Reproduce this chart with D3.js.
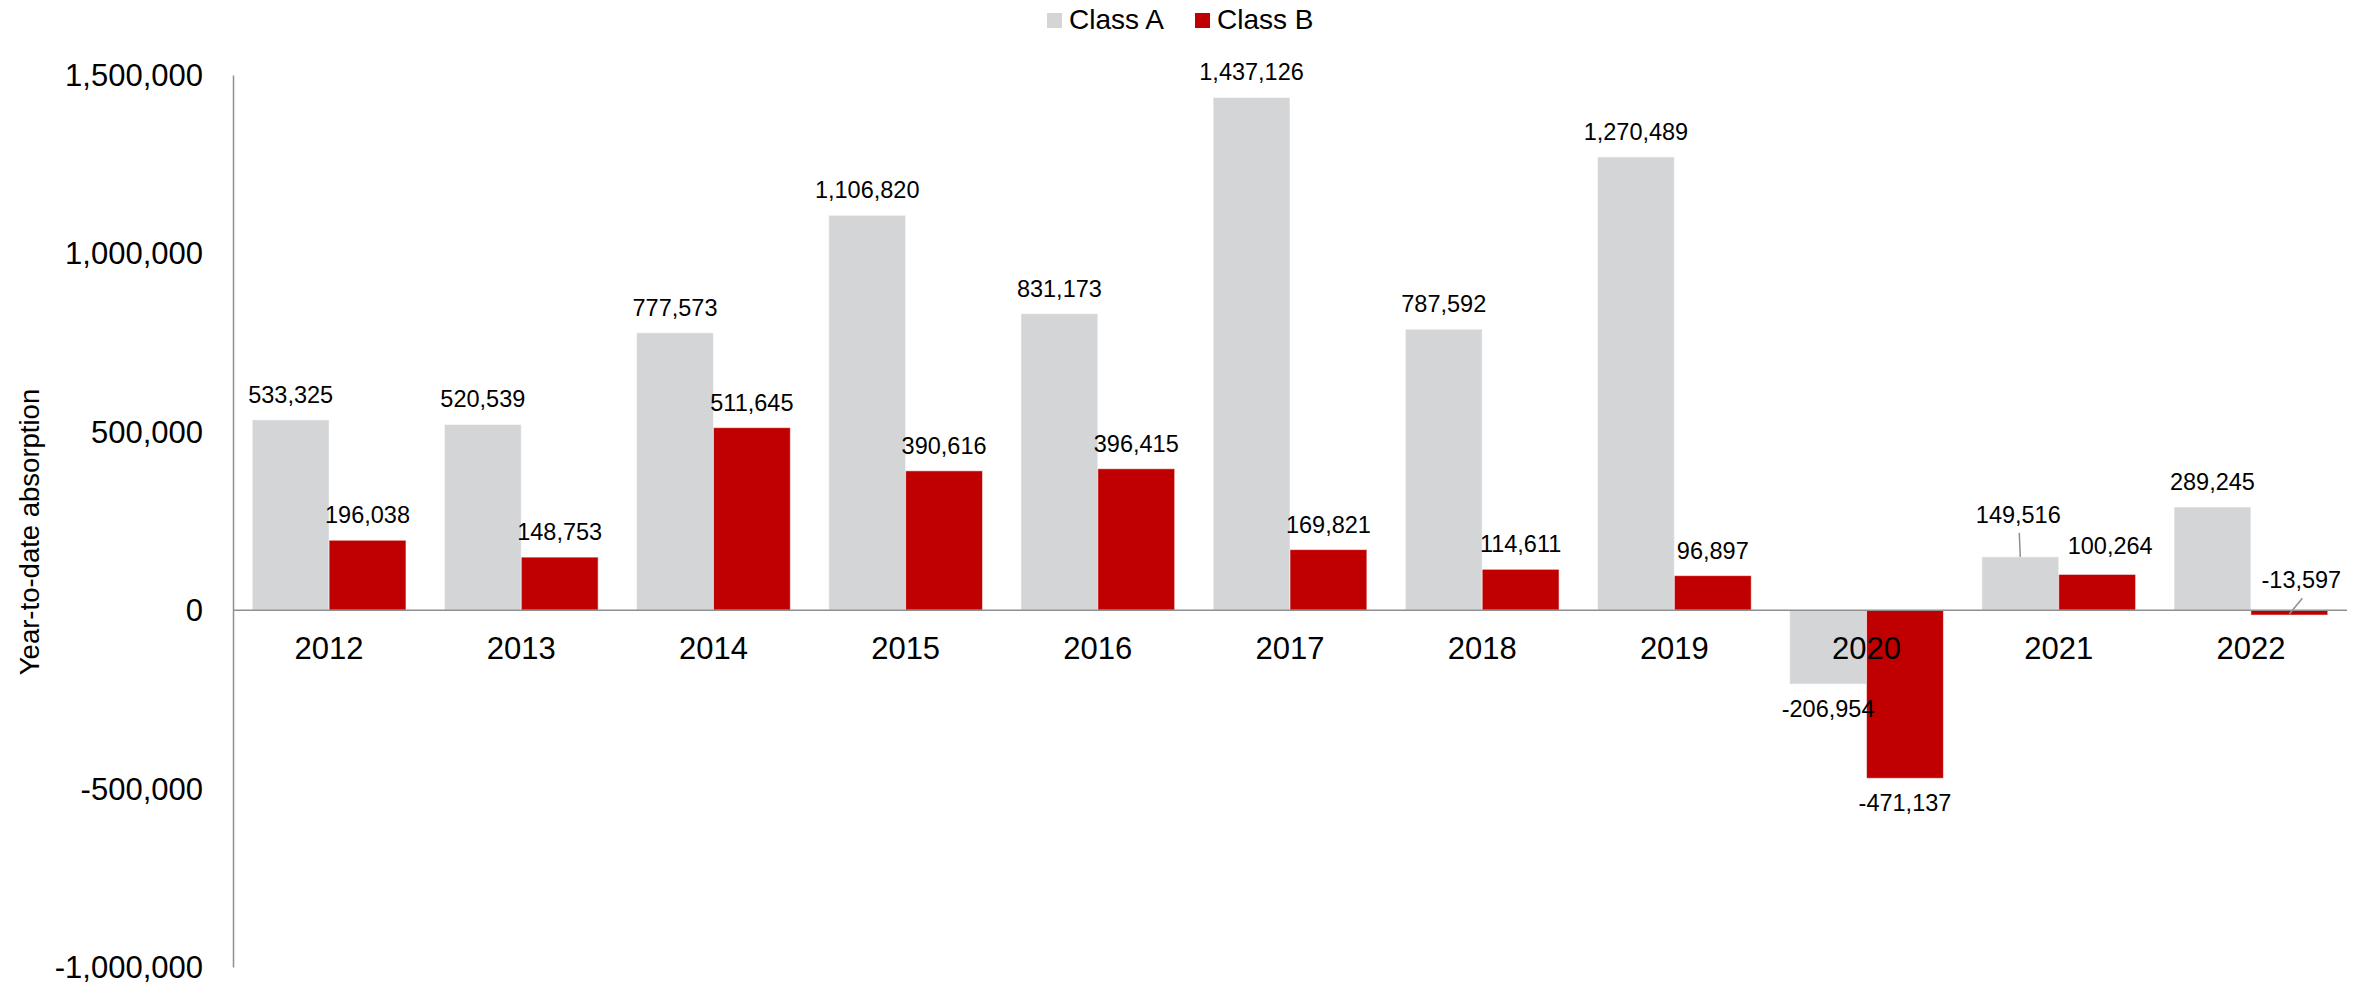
<!DOCTYPE html>
<html>
<head>
<meta charset="utf-8">
<script src="https://cdn.jsdelivr.net/npm/d3@7/dist/d3.min.js"></script>
<style>
  html, body { margin: 0; padding: 0; background: #fff; }
  svg { display: block; font-family: "Liberation Sans", Arial, sans-serif; }
</style>
</head>
<body>
<svg id="chart" width="2361" height="983"></svg>
<script>
// Year-to-date absorption by building class
const years = ["2012", "2013", "2014", "2015", "2016", "2017", "2018", "2019", "2020", "2021", "2022"];
const classA = [533325, 520539, 777573, 1106820, 831173, 1437126, 787592, 1270489, -206954, 149516, 289245];
const classB = [196038, 148753, 511645, 390616, 396415, 169821, 114611, 96897, -471137, 100264, -13597];
const seriesNames = ["Class A", "Class B"];
const seriesColors = ["#D4D5D7", "#C00000"];
const yTicks = [-1000000, -500000, 0, 500000, 1000000, 1500000];

// Hand-placed labels (pixel nudges) where the default spot would collide
const labelNudge = {
  "Class A|2021": { dx: -2, dy: -34, leader: true },
  "Class B|2021": { dx: 13, dy: -20 },
  "Class B|2022": { dx: 12, dy: -22, leader: true, above: true }
};

const svg = d3.select("#chart");
const margin = { left: 233, right: 2347, top: 75, bottom: 967 };

const x0 = d3.scaleBand().domain(years).range([margin.left, margin.right])
  .paddingInner(0.2).paddingOuter(0.1);
const x1 = d3.scaleBand().domain(seriesNames).range([0, x0.bandwidth()]).padding(0);
const y = d3.scaleLinear().domain([-1000000, 1500000]).range([margin.bottom, margin.top]);
// Thousands separators with a plain hyphen for negatives
const fmt = d3.formatLocale({ decimal: ".", thousands: ",", grouping: [3], currency: ["", ""], minus: "-" }).format(",");

const rows = [];
years.forEach((yr, i) => {
  rows.push({ year: yr, series: "Class A", value: classA[i] });
  rows.push({ year: yr, series: "Class B", value: classB[i] });
});
const color = d3.scaleOrdinal().domain(seriesNames).range(seriesColors);

// Bars
svg.append("g").selectAll("rect").data(rows).join("rect")
  .attr("x", d => x0(d.year) + x1(d.series))
  .attr("width", x1.bandwidth())
  .attr("y", d => y(Math.max(0, d.value)))
  .attr("height", d => Math.abs(y(d.value) - y(0)))
  .attr("fill", d => color(d.series))
  .attr("stroke", "rgba(255,255,255,0.55)")
  .attr("stroke-width", 1);

// Y axis with tick labels only
const yAxis = d3.axisLeft(y).tickValues(yTicks).tickSize(0).tickPadding(30)
  .tickFormat(d => fmt(d));
const gy = svg.append("g").attr("transform", `translate(${margin.left},0)`).call(yAxis);
gy.select(".domain").attr("stroke", "#8f8f8f").attr("stroke-width", 1.5);
gy.selectAll(".tick text").attr("font-size", 31).attr("fill", "#000")
  .attr("font-family", "'Liberation Sans', Arial, sans-serif").attr("dy", "0.34em");

// Zero baseline
svg.append("line")
  .attr("x1", margin.left).attr("x2", margin.right)
  .attr("y1", y(0)).attr("y2", y(0))
  .attr("stroke", "#8f8f8f").attr("stroke-width", 1.5);

// Category labels below the baseline
const xAxis = d3.axisBottom(x0).tickSize(0).tickPadding(0);
const gx = svg.append("g").attr("transform", `translate(0,${y(0)})`).call(xAxis);
gx.select(".domain").remove();
gx.selectAll(".tick text").attr("font-size", 31).attr("fill", "#000")
  .attr("font-family", "'Liberation Sans', Arial, sans-serif")
  .attr("dy", null).attr("y", 49);

// Value labels
const labels = svg.append("g").attr("font-size", 23.5).attr("fill", "#000").attr("text-anchor", "middle");
rows.forEach(d => {
  const cx = x0(d.year) + x1(d.series) + x1.bandwidth() / 2;
  const nudge = labelNudge[d.series + "|" + d.year];
  let tx = cx, ty;
  if (nudge) {
    const edge = d.value >= 0 ? y(d.value) : y(0);
    tx = cx + nudge.dx;
    ty = edge + nudge.dy;
    if (nudge.above && d.value < 0) ty = y(0) + nudge.dy;
    if (nudge.leader) {
      const barEnd = y(d.value);
      svg.append("line")
        .attr("x1", tx + 1).attr("y1", ty + 10)
        .attr("x2", cx).attr("y2", barEnd - (d.value >= 0 ? 0 : 1))
        .attr("stroke", "#8f8f8f").attr("stroke-width", 1.5);
    }
  } else if (d.value >= 0) {
    ty = y(d.value) - 17;
  } else {
    ty = y(d.value) + 33;
  }
  labels.append("text").attr("x", tx).attr("y", ty).text(fmt(d.value));
});

// Y axis title
svg.append("text")
  .attr("transform", "translate(38.5,532) rotate(-90)")
  .attr("text-anchor", "middle")
  .attr("font-size", 27.5)
  .attr("fill", "#000")
  .text("Year-to-date absorption");

// Legend
const legend = svg.append("g");
const legendX = [1047, 1195];
seriesNames.forEach((name, i) => {
  legend.append("rect").attr("x", legendX[i]).attr("y", 13).attr("width", 15).attr("height", 15)
    .attr("fill", seriesColors[i]);
  legend.append("text").attr("x", legendX[i] + 22).attr("y", 29)
    .attr("font-size", 28).attr("fill", "#000").text(name);
});
</script>
</body>
</html>
